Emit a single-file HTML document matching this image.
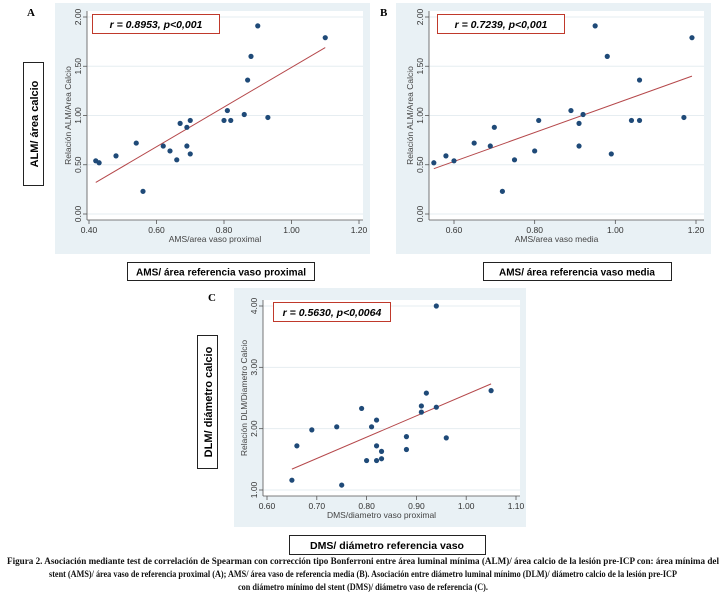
<!DOCTYPE html>
<html><head><meta charset="utf-8">
<style>
html,body{margin:0;padding:0;background:#fff;}
svg{display:block;font-family:"Liberation Sans",sans-serif;}
.tick{font-size:8.5px;fill:#333;}
.ttl{font-size:8.5px;fill:#444;}
</style></head>
<body>
<svg id="fig" width="726" height="600" viewBox="0 0 726 600" xmlns="http://www.w3.org/2000/svg">
  <rect x="55" y="3" width="315" height="251" fill="#e9f1f5"/>
  <rect x="396" y="3" width="315" height="251" fill="#e9f1f5"/>
  <rect x="234" y="288" width="292" height="239" fill="#e9f1f5"/>
  <g id="charts"></g>
  <text x="27" y="16" font-family="Liberation Serif,serif" font-weight="bold" font-size="11">A</text>
  <text x="380" y="16" font-family="Liberation Serif,serif" font-weight="bold" font-size="11">B</text>
  <text x="208" y="301" font-family="Liberation Serif,serif" font-weight="bold" font-size="11">C</text>
  <g>
    <rect x="92.5" y="14.5" width="127" height="19" fill="#fff" stroke="#c0392b" stroke-width="1"/>
    <text x="156" y="28" text-anchor="middle" font-size="10.5" font-weight="bold" font-style="italic">r = 0.8953, p&lt;0,001</text>
  </g>
  <g>
    <rect x="437.5" y="14.5" width="127" height="19" fill="#fff" stroke="#c0392b" stroke-width="1"/>
    <text x="501" y="28" text-anchor="middle" font-size="10.5" font-weight="bold" font-style="italic">r = 0.7239, p&lt;0,001</text>
  </g>
  <g>
    <rect x="273.5" y="302.5" width="117" height="19" fill="#fff" stroke="#c0392b" stroke-width="1"/>
    <text x="332" y="316" text-anchor="middle" font-size="10.5" font-weight="bold" font-style="italic">r = 0.5630, p&lt;0,0064</text>
  </g>
  <g>
    <rect x="23.5" y="62.5" width="20" height="123" fill="#fff" stroke="#222" stroke-width="1"/>
    <text transform="translate(38,124) rotate(-90)" text-anchor="middle" font-size="11" font-weight="bold">ALM/ área calcio</text>
  </g>
  <g>
    <rect x="127.5" y="262.5" width="187" height="18" fill="#fff" stroke="#222" stroke-width="1"/>
    <text x="221" y="275.5" text-anchor="middle" font-size="10.5" font-weight="bold" textLength="170" lengthAdjust="spacingAndGlyphs">AMS/ área referencia vaso proximal</text>
  </g>
  <g>
    <rect x="483.5" y="262.5" width="188" height="18" fill="#fff" stroke="#222" stroke-width="1"/>
    <text x="577" y="275.5" text-anchor="middle" font-size="10.5" font-weight="bold" textLength="156" lengthAdjust="spacingAndGlyphs">AMS/ área referencia vaso media</text>
  </g>
  <g>
    <rect x="197.5" y="335.5" width="20" height="133" fill="#fff" stroke="#222" stroke-width="1"/>
    <text transform="translate(212,402) rotate(-90)" text-anchor="middle" font-size="11" font-weight="bold">DLM/ diámetro calcio</text>
  </g>
  <g>
    <rect x="289.5" y="535.5" width="196" height="19" fill="#fff" stroke="#222" stroke-width="1"/>
    <text x="387" y="549" text-anchor="middle" font-size="10.5" font-weight="bold" textLength="154" lengthAdjust="spacingAndGlyphs">DMS/ diámetro referencia vaso</text>
  </g>
  <g font-family="Liberation Serif,serif" font-size="9.5" font-weight="bold" fill="#111">
    <text x="363" y="564" text-anchor="middle" textLength="712" lengthAdjust="spacingAndGlyphs"><tspan>Figura 2.</tspan> Asociación mediante test de correlación de Spearman con corrección tipo Bonferroni entre área luminal mínima (ALM)/ área calcio de la lesión pre-ICP con: área mínima del</text>
    <text x="363" y="577" text-anchor="middle" textLength="628" lengthAdjust="spacingAndGlyphs">stent (AMS)/ área vaso de referencia proximal (A); AMS/ área vaso de referencia media (B). Asociación entre diámetro luminal mínimo (DLM)/ diámetro calcio de la lesión pre-ICP</text>
    <text x="363" y="590" text-anchor="middle" textLength="250" lengthAdjust="spacingAndGlyphs">con diámetro mínimo del stent (DMS)/ diámetro vaso de referencia (C).</text>
  </g>
</svg>
<script>
const aX = [0.42,0.43,0.48,0.54,0.56,0.62,0.64,0.66,0.67,0.69,0.69,0.70,0.70,0.80,0.81,0.82,0.86,0.87,0.88,0.90,0.93,1.10];
const aY = [0.54,0.52,0.59,0.72,0.23,0.69,0.64,0.55,0.92,0.88,0.69,0.95,0.61,0.95,1.05,0.95,1.01,1.36,1.60,1.91,0.98,1.79];
const aFitX = [0.42,1.10];
const aFitY = [0.32,1.69];
const aXTicks = ["0.40","0.60","0.80","1.00","1.20"];
const aYTicks = ["0.00","0.50","1.00","1.50","2.00"];
const bX = [0.55,0.58,0.60,0.65,0.69,0.70,0.72,0.75,0.80,0.81,0.89,0.91,0.91,0.92,0.95,0.98,0.99,1.04,1.06,1.06,1.17,1.19];
const bY = [0.52,0.59,0.54,0.72,0.69,0.88,0.23,0.55,0.64,0.95,1.05,0.92,0.69,1.01,1.91,1.60,0.61,0.95,1.36,0.95,0.98,1.79];
const bFitX = [0.55,1.19];
const bFitY = [0.46,1.40];
const bXTicks = ["0.60","0.80","1.00","1.20"];
const bYTicks = ["0.00","0.50","1.00","1.50","2.00"];
const cX = [0.65,0.66,0.69,0.74,0.75,0.79,0.80,0.81,0.82,0.82,0.82,0.83,0.83,0.88,0.88,0.91,0.91,0.92,0.94,0.94,0.96,1.05];
const cY = [1.16,1.72,1.98,2.03,1.08,2.33,1.48,2.03,2.14,1.72,1.48,1.63,1.51,1.87,1.66,2.37,2.27,2.58,2.35,4.00,1.85,2.62];
const cFitX = [0.65,1.05];
const cFitY = [1.34,2.73];
const cXTicks = ["0.60","0.70","0.80","0.90","1.00","1.10"];
const cYTicks = ["1.00","2.00","3.00","4.00"];

const NS = "http://www.w3.org/2000/svg";
const root = document.getElementById("charts");
function mk(tag, attrs, parent){
  const e = document.createElementNS(NS, tag);
  for (const k in attrs) e.setAttribute(k, attrs[k]);
  parent.appendChild(e);
  return e;
}
function lin(d0,d1,r0,r1){ return v => r0 + (v-d0)/(d1-d0)*(r1-r0); }

function panel(p){
  const g = mk("g", {}, root);
  
  
  const sx = lin(p.xd[0], p.xd[1], p.xr[0], p.xr[1]);
  const sy = lin(p.yd[0], p.yd[1], p.yr[0], p.yr[1]);
  const pa = mk("rect", {x:p.ax, y:p.top, width:p.right-p.ax, height:p.axY-p.top, fill:"#fff"}, g);
  
  
  p.yTicks.forEach(t => {
    const y = sy(parseFloat(t));
    const gl = mk("line", {x1:p.ax, x2:p.right, y1:y, y2:y, stroke:"#e6edf1", "stroke-width":1}, g);
    
    
    mk("line", {x1:p.ax-4, x2:p.ax, y1:y, y2:y, stroke:"#555", "stroke-width":0.8}, g);
    const tx = mk("text", {class:"tick", transform:`translate(${p.ax-6},${y}) rotate(-90)`, "text-anchor":"middle"}, g);
    tx.textContent = t;
    
    
  });
  p.xTicks.forEach(t => {
    const x = sx(parseFloat(t));
    mk("line", {x1:x, x2:x, y1:p.axY, y2:p.axY+4, stroke:"#555", "stroke-width":0.8}, g);
    const tx = mk("text", {class:"tick", x:x, y:p.axY+13, "text-anchor":"middle"}, g);
    tx.textContent = t;
    
    
  });
  mk("line", {x1:p.ax, x2:p.ax, y1:p.top, y2:p.axY, stroke:"#555", "stroke-width":0.8}, g);
  mk("line", {x1:p.ax, x2:p.right, y1:p.axY, y2:p.axY, stroke:"#555", "stroke-width":0.8}, g);
  const xt = mk("text", {class:"ttl", x:(p.ax+p.right)/2 - 10, y:p.axY+22, "text-anchor":"middle"}, g);
  xt.textContent = p.xTitle;
  
  
  const yt = mk("text", {class:"ttl", transform:`translate(${p.ax-16},${(p.top+p.axY)/2}) rotate(-90)`, "text-anchor":"middle"}, g);
  yt.textContent = p.yTitle;
  
  
  const fl = mk("line", {x1:sx(p.fitX[0]), y1:sy(p.fitY[0]), x2:sx(p.fitX[1]), y2:sy(p.fitY[1]), stroke:"#b5484b", "stroke-width":1}, g);
  
  
  p.xs.forEach((xv,i) => {
    const c = mk("circle", {cx:sx(xv), cy:sy(p.ys[i]), r:2.6, fill:"#1f4a78"}, g);
    
    
  });
}

panel({id:"panel-a", xs:aX, ys:aY, fitX:aFitX, fitY:aFitY, xTicks:aXTicks, yTicks:aYTicks,
  xd:[0.40,1.20], xr:[89,359], yd:[0,2], yr:[214,17], ax:87, axY:220, top:11, right:363,
  xTitle:"AMS/area vaso proximal", yTitle:"Relación ALM/Area Calcio"});
panel({id:"panel-b", xs:bX, ys:bY, fitX:bFitX, fitY:bFitY, xTicks:bXTicks, yTicks:bYTicks,
  xd:[0.60,1.20], xr:[454,696], yd:[0,2], yr:[214,17], ax:429, axY:220, top:11, right:704,
  xTitle:"AMS/area vaso media", yTitle:"Relación ALM/Area Calcio"});
panel({id:"panel-c", xs:cX, ys:cY, fitX:cFitX, fitY:cFitY, xTicks:cXTicks, yTicks:cYTicks,
  xd:[0.60,1.10], xr:[267,516], yd:[1,4], yr:[490,306], ax:263, axY:496, top:300, right:520,
  xTitle:"DMS/diametro vaso proximal", yTitle:"Relación DLM/Diametro Calcio"});
</script>
</body></html>
